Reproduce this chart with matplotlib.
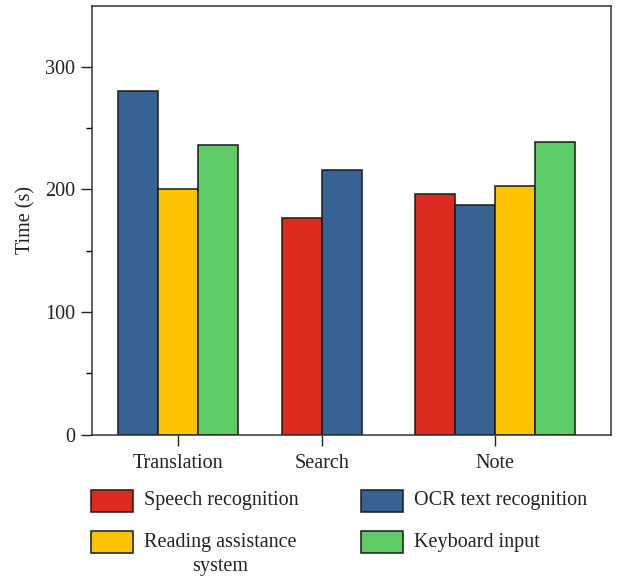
import numpy as np
import matplotlib.pyplot as plt
from matplotlib.patches import Rectangle

plt.rcParams['font.family'] = ['Liberation Serif', 'DejaVu Serif']

categories = ['Translation', 'Search', 'Note']
cat_pos = [2.15, 5.75, 10.08]
series = ['Speech recognition', 'OCR text recognition',
          'Reading assistance\nsystem', 'Keyboard input']
colors = ['#DC2B1E', '#376394', '#FBC300', '#5ECC66']

speech = [np.nan, 177, 196]
ocr = [280, 216, 187]
reading = [200, np.nan, 203]
keyboard = [236, np.nan, 239]
values = [speech, ocr, reading, keyboard]

fs = 14.5
fig = plt.figure(figsize=(6.28, 5.8), dpi=100)
ax = fig.add_axes([92 / 628, 1 - 434.5 / 580, (611 - 92) / 628, (434.5 - 5.7) / 580])

width = 1.0
for ci, c in enumerate(cat_pos):
    present = [si for si in range(len(series)) if not np.isnan(values[si][ci])]
    n = len(present)
    for k, si in enumerate(present):
        x = c + (k - (n - 1) / 2) * width
        ax.bar(x, values[si][ci], width=width, color=colors[si],
               edgecolor='#1a1a1a', linewidth=1.1, zorder=2)

ax.set_xlim(0, 12.98)
ax.set_ylim(0, 350)
ax.set_xticks(cat_pos)
ax.set_xticklabels(categories)
ax.set_yticks([0, 100, 200, 300])
ax.set_yticks([50, 150, 250], minor=True)
ax.tick_params(axis='both', which='major', direction='out', length=8, width=1,
               labelsize=fs, colors='#222222', pad=4)
ax.tick_params(axis='x', which='major', pad=6)
ax.tick_params(axis='y', which='minor', direction='out', length=4, width=1)
ax.tick_params(top=False, right=False)
for s in ax.spines.values():
    s.set_linewidth(1.1)
    s.set_color('#333333')
ax.set_ylabel('Time (s)', fontsize=fs, color='#222222', labelpad=7)

# legend, two columns below the axes
col_x = [91, 361]
row_y = [501, 542]
for si, name in enumerate(series):
    px = col_x[si % 2]
    py = row_y[si // 2]
    fig.patches.append(Rectangle((px / 628, 1 - (py + 11) / 580), 42 / 628, 22 / 580,
                                 transform=fig.transFigure, facecolor=colors[si],
                                 edgecolor='#1a1a1a', linewidth=1.1))
    lines = name.split('\n')
    fig.text((px + 53) / 628, 1 - py / 580, lines[0], fontsize=fs,
             color='#222222', va='center', ha='left')
    if len(lines) > 1:
        t = fig.text((px + 53) / 628, 1 - py / 580, lines[0], fontsize=fs,
                     alpha=0, va='center', ha='left')
        fig.canvas.draw()
        bb = t.get_window_extent()
        cx = (bb.x0 + bb.x1) / 2 / fig.dpi / 6.28
        fig.text(cx, 1 - (py + 25) / 580, lines[1], fontsize=fs,
                 color='#222222', va='center', ha='center')

fig.savefig('out.png', dpi=100)
